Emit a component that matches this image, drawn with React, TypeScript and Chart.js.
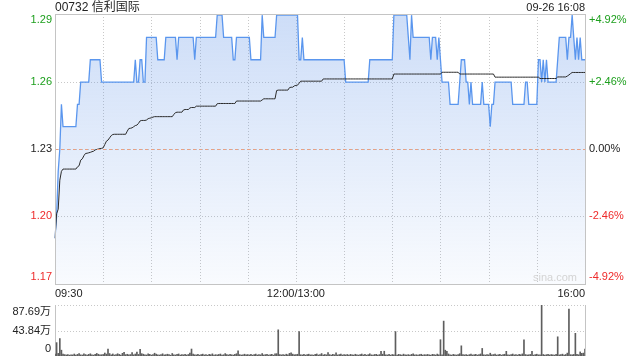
import React, { useEffect, useRef } from "react";
import { Chart, registerables } from "chart.js";

Chart.register(...registerables);

// ---------- data ----------
const TITLE = "00732 信利国际";
const STAMP = "09-26 16:08";
const WATERMARK = "sina.com";

const PREV_CLOSE = 1.23;
const RANGE_PCT = 0.0492;
const PRICE_TICKS = [1.29, 1.26, 1.23, 1.2, 1.17];
const PRICE_TICK_LABELS = ["1.29", "1.26", "1.23", "1.20", "1.17"];
const PCT_TICK_LABELS = ["+4.92%", "+2.46%", "0.00%", "-2.46%", "-4.92%"];

const TIME_TICK_MINUTES = [0, 150, 330];
const TIME_TICK_LABELS = ["09:30", "12:00/13:00", "16:00"];
const GRID_MINUTES = [30, 60, 90, 120, 150, 180, 210, 240, 270, 300];

const VOL_MAX = 87.69;
const VOL_TICKS = [87.69, 43.84, 0];
const VOL_TICK_LABELS = ["87.69万", "43.84万", "0"];

// one value per trading minute (09:30 .. 16:00)
const PRICE = [
  1.19, 1.2, 1.22, 1.23, 1.25, 1.24, 1.24, 1.24, 1.24, 1.24,
  1.24, 1.24, 1.24, 1.24, 1.25, 1.25, 1.26, 1.26, 1.26, 1.26,
  1.26, 1.26, 1.27, 1.27, 1.27, 1.27, 1.27, 1.27, 1.27, 1.26,
  1.26, 1.26, 1.26, 1.26, 1.26, 1.26, 1.26, 1.26, 1.26, 1.26,
  1.26, 1.26, 1.26, 1.26, 1.26, 1.26, 1.26, 1.26, 1.26, 1.26,
  1.27, 1.26, 1.26, 1.27, 1.27, 1.26, 1.26, 1.28, 1.28, 1.28,
  1.28, 1.28, 1.28, 1.28, 1.27, 1.27, 1.27, 1.27, 1.27, 1.28,
  1.28, 1.28, 1.28, 1.28, 1.28, 1.28, 1.27, 1.28, 1.28, 1.28,
  1.28, 1.28, 1.28, 1.28, 1.28, 1.28, 1.28, 1.27, 1.28, 1.28,
  1.28, 1.28, 1.28, 1.28, 1.28, 1.28, 1.28, 1.28, 1.28, 1.28,
  1.28, 1.29, 1.29, 1.29, 1.29, 1.28, 1.28, 1.28, 1.28, 1.28,
  1.28, 1.27, 1.27, 1.28, 1.28, 1.28, 1.28, 1.28, 1.28, 1.28,
  1.28, 1.28, 1.27, 1.27, 1.27, 1.27, 1.27, 1.27, 1.27, 1.29,
  1.28, 1.28, 1.28, 1.28, 1.28, 1.28, 1.28, 1.28, 1.29, 1.29,
  1.29, 1.29, 1.29, 1.29, 1.29, 1.29, 1.29, 1.29, 1.29, 1.29,
  1.29, 1.29, 1.27, 1.27, 1.28, 1.27, 1.27, 1.27, 1.27, 1.27,
  1.27, 1.27, 1.27, 1.27, 1.27, 1.27, 1.27, 1.27, 1.27, 1.27,
  1.27, 1.27, 1.27, 1.27, 1.27, 1.27, 1.27, 1.27, 1.27, 1.27,
  1.27, 1.26, 1.26, 1.26, 1.26, 1.26, 1.26, 1.26, 1.26, 1.26,
  1.26, 1.26, 1.26, 1.26, 1.26, 1.26, 1.27, 1.27, 1.27, 1.27,
  1.27, 1.27, 1.27, 1.27, 1.27, 1.27, 1.27, 1.27, 1.27, 1.27,
  1.27, 1.29, 1.29, 1.29, 1.29, 1.29, 1.29, 1.29, 1.29, 1.29,
  1.28, 1.27, 1.29, 1.28, 1.28, 1.28, 1.28, 1.28, 1.28, 1.28,
  1.28, 1.28, 1.28, 1.28, 1.27, 1.28, 1.28, 1.28, 1.27, 1.28,
  1.27, 1.26, 1.26, 1.26, 1.26, 1.26, 1.25, 1.25, 1.25, 1.25,
  1.25, 1.25, 1.26, 1.27, 1.27, 1.27, 1.26, 1.26, 1.25, 1.26,
  1.25, 1.25, 1.25, 1.25, 1.25, 1.25, 1.26, 1.25, 1.25, 1.25,
  1.25, 1.24, 1.25, 1.25, 1.26, 1.26, 1.26, 1.26, 1.26, 1.26,
  1.26, 1.26, 1.26, 1.26, 1.26, 1.25, 1.25, 1.25, 1.25, 1.25,
  1.25, 1.25, 1.25, 1.26, 1.26, 1.25, 1.25, 1.25, 1.25, 1.25,
  1.25, 1.27, 1.27, 1.26, 1.27, 1.26, 1.27, 1.26, 1.26, 1.26,
  1.26, 1.26, 1.26, 1.27, 1.28, 1.28, 1.28, 1.28, 1.28, 1.27,
  1.28, 1.28, 1.29, 1.28, 1.27, 1.28, 1.27, 1.28, 1.27, 1.27,
  1.27,
];

const AVG = [
  1.19, 1.201, 1.203, 1.216, 1.22, 1.221, 1.221, 1.221, 1.221, 1.221,
  1.221, 1.221, 1.221, 1.221, 1.222, 1.2225, 1.225, 1.2256, 1.227, 1.228,
  1.2281, 1.2283, 1.2285, 1.2288, 1.229, 1.2296, 1.2298, 1.23, 1.2302, 1.2303,
  1.2305, 1.232, 1.2335, 1.234, 1.235, 1.236, 1.2365, 1.2366, 1.2366, 1.2366,
  1.2366, 1.2366, 1.2366, 1.2366, 1.2366, 1.238, 1.2392, 1.2393, 1.2395, 1.24,
  1.2405, 1.2407, 1.2415, 1.2426, 1.2428, 1.2428, 1.2428, 1.243, 1.2436, 1.2438,
  1.244, 1.2443, 1.2445, 1.2445, 1.2445, 1.2445, 1.2445, 1.2445, 1.2445, 1.2445,
  1.2445, 1.2445, 1.2445, 1.2445, 1.2455, 1.2463, 1.2465, 1.2465, 1.2465, 1.2465,
  1.2475, 1.2477, 1.2477, 1.2477, 1.2484, 1.2486, 1.2486, 1.2486, 1.2492, 1.2492,
  1.2492, 1.2492, 1.2492, 1.2492, 1.2492, 1.2492, 1.2492, 1.2492, 1.2492, 1.2492,
  1.2492, 1.2503, 1.2504, 1.2504, 1.2504, 1.2504, 1.2504, 1.2504, 1.2504, 1.2504,
  1.2504, 1.2504, 1.2504, 1.2515, 1.2515, 1.2515, 1.2515, 1.2515, 1.2515, 1.2515,
  1.2515, 1.2515, 1.2515, 1.2515, 1.2515, 1.2515, 1.2515, 1.2515, 1.2515, 1.252,
  1.2525, 1.2525, 1.2525, 1.2525, 1.2525, 1.2525, 1.2525, 1.2525, 1.2562, 1.2564,
  1.2564, 1.2564, 1.2564, 1.2564, 1.2564, 1.2564, 1.2575, 1.2577, 1.2577, 1.2583,
  1.2585, 1.2586, 1.2595, 1.2604, 1.2604, 1.2604, 1.2604, 1.2604, 1.2604, 1.2604,
  1.2604, 1.2604, 1.2604, 1.2604, 1.2604, 1.2604, 1.2604, 1.2614, 1.2614, 1.2614,
  1.2614, 1.2614, 1.2614, 1.2614, 1.2614, 1.2614, 1.2614, 1.2614, 1.2614, 1.2614,
  1.2614, 1.2614, 1.2614, 1.2614, 1.2614, 1.2614, 1.2614, 1.2614, 1.2614, 1.2614,
  1.2614, 1.2614, 1.2614, 1.2614, 1.2614, 1.2614, 1.2614, 1.2614, 1.2614, 1.2614,
  1.2614, 1.2614, 1.2614, 1.2614, 1.2614, 1.2614, 1.2614, 1.2614, 1.2614, 1.2614,
  1.2614, 1.2636, 1.2636, 1.2636, 1.2636, 1.2636, 1.2636, 1.2636, 1.2636, 1.2636,
  1.2636, 1.2636, 1.2636, 1.2636, 1.2636, 1.2636, 1.2636, 1.2636, 1.2636, 1.2636,
  1.2636, 1.2636, 1.2636, 1.2636, 1.2636, 1.2636, 1.2636, 1.2636, 1.2636, 1.2636,
  1.2636, 1.2644, 1.2644, 1.2644, 1.2644, 1.2644, 1.2644, 1.2644, 1.2644, 1.2644,
  1.2644, 1.2644, 1.2636, 1.2636, 1.2636, 1.2636, 1.2636, 1.2636, 1.2636, 1.2636,
  1.2636, 1.2636, 1.2636, 1.2636, 1.2636, 1.2636, 1.2636, 1.2636, 1.2636, 1.2636,
  1.2636, 1.2636, 1.2636, 1.2636, 1.2622, 1.2622, 1.2622, 1.2622, 1.2622, 1.2622,
  1.2622, 1.2622, 1.2622, 1.2622, 1.2622, 1.2622, 1.2622, 1.2622, 1.2622, 1.2622,
  1.2622, 1.2622, 1.2622, 1.2622, 1.2622, 1.2622, 1.2622, 1.2622, 1.2622, 1.2622,
  1.2622, 1.2622, 1.2616, 1.2616, 1.2616, 1.2616, 1.2616, 1.2616, 1.2616, 1.2616,
  1.2616, 1.2616, 1.2616, 1.2623, 1.2623, 1.2623, 1.2623, 1.2623, 1.2623, 1.2627,
  1.2632, 1.2638, 1.2643, 1.2643, 1.2643, 1.2643, 1.2643, 1.2643, 1.2643, 1.2643,
  1.2643,
];

// volume per minute, in 万
const VOLUME = [
  3.2, 23, 4.5, 30, 10, 3.1, 2.4, 1.8, 2.6, 1.5,
  2.2, 1.9, 3.4, 1.6, 2.8, 4.1, 2.0, 1.7, 3.6, 2.5,
  1.4, 2.9, 3.8, 2.1, 1.6, 2.7, 4.4, 3.0, 1.8, 2.2,
  2.6, 5.1, 3.3, 12, 4.2, 2.0, 3.5, 1.7, 2.4, 3.9,
  2.8, 1.5, 4.6, 6.2, 2.3, 3.0, 1.9, 2.5, 5.8, 2.1,
  3.4, 6.8, 2.7, 11.5, 4.0, 3.1, 2.2, 1.8, 3.6, 2.9,
  1.6, 2.4, 4.8, 3.2, 2.0, 1.7, 2.6, 3.8, 1.9, 2.3,
  3.1, 2.5, 1.4, 4.3, 2.2, 1.8, 2.9, 3.5, 1.6, 2.4,
  2.0, 3.0, 1.7, 2.6, 5.2, 12, 3.3, 2.1, 1.9, 2.8,
  1.5, 2.4, 3.2, 1.8, 2.6, 1.4, 2.9, 2.2, 3.7, 1.6,
  2.3, 1.9, 2.7, 3.4, 1.5, 2.2, 4.1, 2.5, 1.8, 3.0,
  2.1, 1.6, 2.8, 3.9, 9, 2.4, 1.7, 2.2, 3.1, 1.9,
  2.5, 1.8, 2.9, 1.5, 2.3, 3.3, 1.7, 2.6, 2.0, 4.2,
  1.8, 2.4, 3.0, 1.6, 2.2, 2.9, 1.5, 3.6, 4.0, 45,
  2.6, 1.9, 2.3, 1.7, 3.1, 2.0, 4.5, 5.4, 3.2, 2.1,
  2.5, 3.0, 42, 2.2, 1.8, 2.7, 1.6, 2.4, 3.1, 1.9,
  2.2, 1.5, 2.8, 3.5, 1.7, 2.3, 4.2, 1.8, 2.6, 2.0,
  5.8, 2.4, 1.6, 2.9, 2.1, 5.5, 1.8, 2.5, 3.2, 1.7,
  2.3, 1.9, 2.6, 1.5, 2.8, 2.1, 1.7, 3.0, 2.2, 1.6,
  2.5, 3.4, 1.8, 2.7, 1.5, 2.3, 3.8, 2.0, 1.7, 2.6,
  2.9, 1.6, 2.4, 8, 3.1, 8.2, 2.2, 1.8, 2.7, 1.5,
  2.6, 2.0, 42, 1.7, 2.9, 2.3, 1.6, 3.2, 2.1, 1.8,
  2.4, 1.5, 2.8, 3.6, 1.9, 2.2, 1.7, 2.5, 3.0, 1.6,
  2.3, 1.8, 2.7, 2.0, 1.5, 2.9, 2.4, 1.7, 3.3, 2.1,
  28, 1.8, 60, 10, 8, 3.5, 2.2, 1.6, 2.8, 2.0,
  1.7, 2.5, 3.9, 17.5, 2.3, 1.9, 2.6, 1.5, 2.4, 3.1,
  1.8, 2.2, 2.9, 1.6, 2.4, 3.5, 13, 2.1, 1.7, 2.6,
  2.0, 4.8, 1.8, 2.5, 3.3, 1.6, 2.2, 2.9, 1.5, 2.4,
  3.0, 8, 2.1, 1.7, 2.6, 3.4, 1.9, 2.3, 1.6, 2.8,
  2.2, 3.6, 28, 2.5, 1.8, 2.1, 2.7, 8, 1.6, 2.4,
  3.1, 2.0, 1.9, 87.69, 2.6, 1.7, 2.3, 3.0, 1.8, 2.5,
  2.2, 1.6, 2.9, 33, 1.9, 2.4, 3.2, 1.7, 2.6, 5.0,
  80.7, 2.3, 1.8, 2.7, 39, 3.0, 2.1, 7, 4.6, 5,
  12,
];

const MINUTES = PRICE.map((_, i) => i);

// ---------- styling ----------
const FONT = '"Liberation Sans", Arial, "Noto Sans CJK SC", sans-serif';
const GREEN = "#1d9f1d";
const RED = "#ee2a2a";
const BLACK = "#222";
const GRID = "#c8c8c8";
const BORDER = "#c4c4c4";

function priceColor(v: number) {
  if (v > PREV_CLOSE + 1e-9) return GREEN;
  if (v < PREV_CLOSE - 1e-9) return RED;
  return BLACK;
}

function hLine(ctx: CanvasRenderingContext2D, x1: number, x2: number, y: number, color: string, dash: number[]) {
  const yy = Math.round(y) + 0.5;
  ctx.save();
  ctx.strokeStyle = color;
  ctx.lineWidth = 1;
  ctx.setLineDash(dash);
  ctx.beginPath();
  ctx.moveTo(x1, yy);
  ctx.lineTo(x2, yy);
  ctx.stroke();
  ctx.restore();
}

function vLine(ctx: CanvasRenderingContext2D, x: number, y1: number, y2: number, color: string, dash: number[]) {
  const xx = Math.round(x) + 0.5;
  ctx.save();
  ctx.strokeStyle = color;
  ctx.lineWidth = 1;
  ctx.setLineDash(dash);
  ctx.beginPath();
  ctx.moveTo(xx, y1);
  ctx.lineTo(xx, y2);
  ctx.stroke();
  ctx.restore();
}

const priceDecor = {
  id: "priceDecor",
  beforeDatasetsDraw(chart: any) {
    const { ctx, chartArea: a, scales } = chart;
    const x = scales.x;
    const y = scales.y;
    GRID_MINUTES.forEach((m) => vLine(ctx, x.getPixelForValue(m), a.top, a.bottom, GRID, [1, 2]));
    [1.26, 1.2].forEach((v) => hLine(ctx, a.left, a.right, y.getPixelForValue(v), GRID, [1, 2]));
    hLine(ctx, a.left, a.right, y.getPixelForValue(PREV_CLOSE), GRID, [1, 2]);
  },
  afterDatasetsDraw(chart: any) {
    const { ctx, chartArea: a, scales } = chart;
    const y = scales.y;
    hLine(ctx, a.left, a.right, y.getPixelForValue(PREV_CLOSE), "#e9a184", [3, 3]);
    ctx.save();
    ctx.strokeStyle = BORDER;
    ctx.lineWidth = 1;
    ctx.strokeRect(Math.round(a.left) + 0.5, Math.round(a.top) + 0.5, Math.round(a.right - a.left), Math.round(a.bottom - a.top));
    ctx.restore();
  },
  afterDraw(chart: any) {
    const { ctx, chartArea: a, scales } = chart;
    const x = scales.x;
    const y = scales.y;
    ctx.save();
    ctx.textBaseline = "middle";
    // header
    ctx.fillStyle = "#222";
    ctx.font = `12px ${FONT}`;
    ctx.textAlign = "left";
    ctx.fillText(TITLE, a.left, 8);
    ctx.font = `11px ${FONT}`;
    ctx.textAlign = "right";
    ctx.fillText(STAMP, a.right, 8);
    // y labels
    ctx.font = `11px ${FONT}`;
    PRICE_TICKS.forEach((v, i) => {
      let py = y.getPixelForValue(v);
      py = Math.min(Math.max(py, a.top + 6), a.bottom - 7);
      ctx.fillStyle = priceColor(v);
      ctx.textAlign = "right";
      ctx.fillText(PRICE_TICK_LABELS[i], a.left - 3, py);
      ctx.textAlign = "left";
      ctx.fillText(PCT_TICK_LABELS[i], a.right + 4, py);
    });
    // time labels
    ctx.fillStyle = "#222";
    TIME_TICK_MINUTES.forEach((m, i) => {
      const px = x.getPixelForValue(m);
      ctx.textAlign = i === 0 ? "left" : i === TIME_TICK_MINUTES.length - 1 ? "right" : "center";
      ctx.fillText(TIME_TICK_LABELS[i], px, a.bottom + 10);
    });
    // watermark
    ctx.fillStyle = "#d4d4d4";
    ctx.textAlign = "right";
    ctx.fillText(WATERMARK, a.right - 8, a.bottom - 6);
    ctx.restore();
  },
};

const volDecor = {
  id: "volDecor",
  beforeDatasetsDraw(chart: any) {
    const { ctx, chartArea: a, scales } = chart;
    const y = scales.y;
    hLine(ctx, a.left, a.right, y.getPixelForValue(VOL_TICKS[0]), GRID, [1, 2]);
    hLine(ctx, a.left, a.right, y.getPixelForValue(VOL_TICKS[1]), GRID, [1, 2]);
    vLine(ctx, a.left, a.top, a.bottom, BORDER, []);
    vLine(ctx, a.right, a.top, a.bottom, BORDER, []);
  },
  afterDraw(chart: any) {
    const { ctx, chartArea: a, scales } = chart;
    const y = scales.y;
    ctx.save();
    ctx.font = `11px ${FONT}`;
    ctx.fillStyle = "#222";
    ctx.textAlign = "right";
    ctx.textBaseline = "middle";
    VOL_TICKS.forEach((v, i) => {
      let py = y.getPixelForValue(v);
      py = Math.min(Math.max(py, a.top + 7), a.bottom - 7);
      ctx.fillText(VOL_TICK_LABELS[i], a.left - 4, py);
    });
    ctx.restore();
  },
};

export default function App() {
  const priceRef = useRef<HTMLCanvasElement | null>(null);
  const volRef = useRef<HTMLCanvasElement | null>(null);

  useEffect(() => {
    if (!priceRef.current || !volRef.current) return;
    const priceChart = new Chart(priceRef.current, {
      type: "line",
      data: {
        labels: MINUTES,
        datasets: [
          {
            data: AVG,
            borderColor: "#2b2b2b",
            borderWidth: 1,
            pointRadius: 0,
            fill: false,
            tension: 0,
            order: 0,
          },
          {
            data: PRICE,
            borderColor: "#5a96ee",
            borderWidth: 1.3,
            pointRadius: 0,
            tension: 0,
            fill: "start",
            order: 1,
            backgroundColor: (c: any) => {
              const ch = c.chart;
              const a = ch.chartArea;
              if (!a) return "rgba(100,150,230,0.2)";
              const g = ch.ctx.createLinearGradient(0, a.top, 0, a.bottom);
              g.addColorStop(0, "rgba(100,150,232,0.32)");
              g.addColorStop(1, "rgba(100,150,232,0.04)");
              return g;
            },
          },
        ],
      },
      options: {
        animation: false,
        responsive: false,
        maintainAspectRatio: false,
        events: [],
        layout: { padding: { left: 55, right: 55, top: 14, bottom: 76 } },
        scales: {
          x: { type: "category", display: false, offset: false },
          y: {
            type: "linear",
            display: false,
            min: PREV_CLOSE * (1 - RANGE_PCT),
            max: PREV_CLOSE * (1 + RANGE_PCT),
          },
        },
        plugins: { legend: { display: false }, tooltip: { enabled: false } },
      },
      plugins: [priceDecor],
    } as any);

    const volChart = new Chart(volRef.current, {
      type: "bar",
      data: {
        labels: MINUTES,
        datasets: [
          {
            data: VOLUME,
            backgroundColor: "#5e5e5e",
            borderWidth: 0,
            barThickness: 1,
          },
        ],
      },
      options: {
        animation: false,
        responsive: false,
        maintainAspectRatio: false,
        events: [],
        layout: { padding: { left: 55, right: 55, top: 305, bottom: 4 } },
        scales: {
          x: { type: "category", display: false, offset: false },
          y: { type: "linear", display: false, min: 0, max: VOL_MAX },
        },
        plugins: { legend: { display: false }, tooltip: { enabled: false } },
      },
      plugins: [volDecor],
    } as any);

    return () => {
      priceChart.destroy();
      volChart.destroy();
    };
  }, []);

  return (
    <div style={{ position: "absolute", left: 0, top: 0, width: 640, height: 360, background: "#fff" }}>
      <canvas ref={priceRef} width={640} height={360} style={{ position: "absolute", left: 0, top: 0 }} />
      <canvas ref={volRef} width={640} height={360} style={{ position: "absolute", left: 0, top: 0 }} />
    </div>
  );
}
